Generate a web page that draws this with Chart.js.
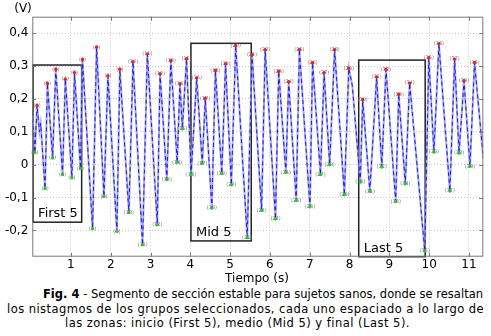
<!DOCTYPE html>
<html>
<head>
<meta charset="utf-8">
<script src="https://cdn.jsdelivr.net/npm/chart.js@4.4.1/dist/chart.umd.min.js"></script>
<style>
  body { margin: 0; background: #fff; width: 491px; height: 336px; position: relative; overflow: hidden; }
  #wrap { position: absolute; left: 0; top: 0; width: 491px; height: 287px; }
  .cap { position: absolute; white-space: nowrap; font-family: "DejaVu Sans", Verdana, sans-serif; font-size: 11.5px; color: #000; line-height: 14px; }
</style>
</head>
<body>
<div id="wrap"><canvas id="sigChart" width="491" height="287"></canvas></div>
<div class="cap" data-w="440" style="left:43px; top:287px;"><b>Fig. 4</b> - Segmento de sección estable para sujetos sanos, donde se resaltan</div>
<div class="cap" data-w="477" style="left:7px; top:301.5px;">los nistagmos de los grupos seleccionados, cada uno espaciado a lo largo de</div>
<div class="cap" data-w="345" style="left:65px; top:315.5px;">las zonas: inicio (First 5), medio (Mid 5) y final (Last 5).</div>
<script>
// peaks (red markers) - time in s, amplitude in V
var peakT = [0.15, 0.41, 0.62, 0.86, 1.09, 1.29, 1.645, 1.93, 2.23, 2.56, 2.92, 3.24, 3.51, 3.74, 3.905, 4.16, 4.375, 4.63, 4.885, 5.14,
             5.55, 5.88, 6.22, 6.47, 6.74, 7.07, 7.36, 7.625, 7.98, 8.33, 8.68, 8.915, 9.235, 9.51, 9.99, 10.245, 10.64, 10.875, 11.14];
var peakV = [0.18, 0.247, 0.29, 0.26, 0.28, 0.32, 0.357, 0.27, 0.29, 0.313, 0.337, 0.277, 0.317, 0.246, 0.322, 0.264, 0.202, 0.287, 0.307, 0.362,
             0.335, 0.35, 0.284, 0.252, 0.35, 0.31, 0.28, 0.35, 0.293, 0.198, 0.267, 0.29, 0.214, 0.248, 0.325, 0.368, 0.321, 0.255, 0.311];

// troughs (green markers)
var troughT = [0.095, 0.35, 0.54, 0.79, 1.025, 1.24, 1.545, 1.83, 2.155, 2.457, 2.80, 3.17, 3.41, 3.67, 3.80, 4.02, 4.30, 4.54, 4.79, 5.03,
               5.43, 5.79, 6.14, 6.40, 6.66, 7.005, 7.27, 7.50, 7.87, 8.27, 8.51, 8.81, 9.16, 9.40, 9.89, 10.12, 10.52, 10.75, 11.025];
var troughV = [0.037, -0.073, 0.02, -0.03, -0.04, -0.012, -0.195, -0.097, -0.203, -0.146, -0.244, -0.183, -0.045, 0.007, 0.109, -0.03, 0.004, -0.132, -0.027, -0.061,
               -0.222, -0.139, -0.165, -0.023, -0.109, -0.128, -0.03, 0.0, -0.091, -0.053, -0.081, -0.007, -0.112, -0.058, -0.263, 0.038, -0.08, 0.035, -0.005];

// other samples of the signal (start, end, small shoulders)
var extraT = [0.03, 0.21, 0.24, 8.07, 11.36];
var extraV = [0.16, 0.10, 0.125, 0.24, 0.02];

// selected zones
var zoneNames = ['First 5', 'Mid 5', 'Last 5'];
var zoneStart = [0.05, 4.015, 8.23];
var zoneEnd = [1.27, 5.53, 9.90];
var zoneTop = [0.303, 0.369, 0.318];
var zoneBottom = [-0.175, -0.232, -0.28];

var xTicks = [1, 2, 3, 4, 5, 6, 7, 8, 9, 10, 11];
var yTicks = [-0.2, -0.1, 0, 0.1, 0.2, 0.3, 0.4];

var FONT = '"DejaVu Sans", Verdana, sans-serif';

// stretch/shrink caption lines to the widths of the original
document.querySelectorAll('.cap').forEach(function (el) {
    var target = parseFloat(el.dataset.w);
    var chars = el.textContent.length;
    var w = el.getBoundingClientRect().width;
    el.style.letterSpacing = ((target - w) / chars).toFixed(3) + 'px';
});

// build the signal from all samples, sorted by time
var signal = [];
peakT.forEach(function (t, i) { signal.push({x: t, y: peakV[i]}); });
troughT.forEach(function (t, i) { signal.push({x: t, y: troughV[i]}); });
extraT.forEach(function (t, i) { signal.push({x: t, y: extraV[i]}); });
signal.sort(function (a, b) { return a.x - b.x; });

var peaks = peakT.map(function (t, i) { return {x: t, y: peakV[i]}; });
var troughs = troughT.map(function (t, i) { return {x: t, y: troughV[i]}; });

var decorations = {
    id: 'decorations',
    beforeDatasetsDraw: function (chart) {
        var ctx = chart.ctx, a = chart.chartArea;
        var xs = chart.scales.x, ys = chart.scales.y;
        ctx.save();
        // zone boxes
        ctx.strokeStyle = '#222';
        ctx.lineWidth = 1.5;
        ctx.font = '13px ' + FONT;
        ctx.fillStyle = '#000';
        ctx.textBaseline = 'bottom';
        zoneNames.forEach(function (name, i) {
            var x0 = xs.getPixelForValue(zoneStart[i]);
            var x1 = xs.getPixelForValue(zoneEnd[i]);
            var y0 = ys.getPixelForValue(zoneTop[i]);
            var y1 = Math.min(ys.getPixelForValue(zoneBottom[i]), a.bottom);
            ctx.strokeRect(x0, y0, x1 - x0, y1 - y0);
            ctx.fillText(name, x0 + 5, y1 - 2);
        });
        ctx.restore();
    },
    afterDatasetsDraw: function (chart) {
        var ctx = chart.ctx, a = chart.chartArea;
        var xs = chart.scales.x, ys = chart.scales.y;
        ctx.save();
        // peak / trough labels
        function marks(dsIndex, color) {
            chart.getDatasetMeta(dsIndex).data.forEach(function (p, i) {
                ctx.font = '5px ' + FONT;
                ctx.fillStyle = '#777';
                ctx.textAlign = 'center';
                ctx.textBaseline = 'middle';
                ctx.fillText('(' + (i + 1) + ')', p.x, p.y);
                ctx.beginPath();
                ctx.arc(p.x, p.y, 1.7, 0, Math.PI * 2);
                ctx.fillStyle = color;
                ctx.fill();
            });
        }
        marks(2, '#e8202a');
        marks(3, '#2fc42f');

        // frame and inward ticks
        ctx.strokeStyle = '#7a7a7a';
        ctx.lineWidth = 1;
        ctx.strokeRect(a.left + 0.5, a.top + 0.5, a.right - a.left - 1, a.bottom - a.top - 1);
        ctx.beginPath();
        xTicks.forEach(function (t) {
            var x = Math.round(xs.getPixelForValue(t)) + 0.5;
            ctx.moveTo(x, a.bottom); ctx.lineTo(x, a.bottom - 4);
            ctx.moveTo(x, a.top); ctx.lineTo(x, a.top + 4);
        });
        yTicks.forEach(function (v) {
            var y = Math.round(ys.getPixelForValue(v)) + 0.5;
            ctx.moveTo(a.left, y); ctx.lineTo(a.left + 4, y);
            ctx.moveTo(a.right, y); ctx.lineTo(a.right - 4, y);
        });
        ctx.stroke();

        // axis titles
        ctx.fillStyle = '#000';
        ctx.font = '12px ' + FONT;
        ctx.textAlign = 'center';
        ctx.textBaseline = 'middle';
        ctx.fillText('Tiempo (s)', 257, 279);
        ctx.fillText('(V)', 23, 9);
        ctx.restore();
    }
};

var ctx = document.getElementById('sigChart').getContext('2d');
var myChart = new Chart(ctx, {
    type: 'scatter',
    data: {
        datasets: [{
            data: signal,
            showLine: true,
            borderColor: 'rgba(150, 150, 228, 0.8)',
            borderWidth: 2,
            pointRadius: 0,
            order: 4
        }, {
            data: signal,
            showLine: true,
            borderColor: '#1a1ae6',
            borderWidth: 1,
            borderDash: [4, 3],
            pointRadius: 0,
            order: 3
        }, {
            data: peaks,
            pointRadius: 0,
            order: 2
        }, {
            data: troughs,
            pointRadius: 0,
            order: 1
        }]
    },
    options: {
        responsive: false,
        animation: false,
        layout: { padding: { left: 0, top: 16.7, right: 7.7, bottom: 0 } },
        plugins: { legend: { display: false }, tooltip: { enabled: false } },
        scales: {
            x: {
                type: 'linear',
                min: 0.03,
                max: 11.36,
                afterFit: function (s) { s.height = 30.3; },
                afterBuildTicks: function (s) { s.ticks = xTicks.map(function (v) { return {value: v}; }); },
                grid: { color: '#c8c8c8', lineWidth: 1, drawTicks: false },
                border: { display: false, dash: [1, 2] },
                ticks: { color: '#000', font: { family: FONT, size: 12 }, padding: 1, maxRotation: 0 }
            },
            y: {
                type: 'linear',
                min: -0.28,
                max: 0.45,
                afterFit: function (s) { s.width = 32.3; },
                afterBuildTicks: function (s) { s.ticks = yTicks.map(function (v) { return {value: v}; }); },
                grid: { color: '#c8c8c8', lineWidth: 1, drawTicks: false },
                border: { display: false, dash: [1, 2] },
                ticks: {
                    color: '#000', font: { family: FONT, size: 12 }, padding: 4,
                    callback: function (v) { return v === 0 ? '0' : v.toFixed(1).replace('.', ','); }
                }
            }
        }
    },
    plugins: [decorations]
});
</script>
</body>
</html>
